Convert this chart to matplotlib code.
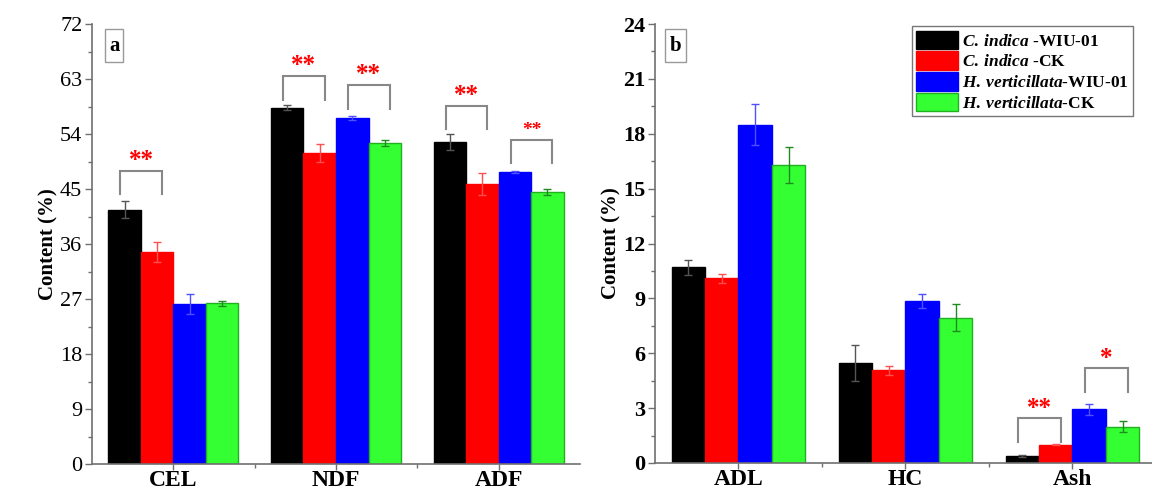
import matplotlib
matplotlib.use("Agg")
import matplotlib.pyplot as plt
import numpy as np
from matplotlib.patches import Rectangle, Patch

plt.rcParams['font.family'] = ['Liberation Serif', 'DejaVu Serif']
plt.rcParams['mathtext.fontset'] = 'custom'
plt.rcParams['mathtext.rm'] = 'Liberation Serif:bold'
plt.rcParams['mathtext.it'] = 'Liberation Serif:bold:italic'
plt.rcParams['mathtext.bf'] = 'Liberation Serif:bold'

# ---------------- data ----------------
series = ["C. indica -WIU-01", "C. indica -CK", "H. verticillata-WIU-01", "H. verticillata-CK"]
legend_labels = [r"$\mathit{C.\:indica}$ -WIU-01", r"$\mathit{C.\:indica}$ -CK",
                 r"$\mathit{H.\:verticillata}$-WIU-01", r"$\mathit{H.\:verticillata}$-CK"]

cats_a = ["CEL", "NDF", "ADF"]
vals_a = {
    "C. indica -WIU-01":      [41.6, 58.3, 52.7],
    "C. indica -CK":          [34.7, 50.9, 45.8],
    "H. verticillata-WIU-01": [26.2, 56.6, 47.8],
    "H. verticillata-CK":     [26.3, 52.5, 44.5],
}
errs_a = {
    "C. indica -WIU-01":      [1.4, 0.4, 1.3],
    "C. indica -CK":          [1.6, 1.4, 1.8],
    "H. verticillata-WIU-01": [1.7, 0.3, 0.2],
    "H. verticillata-CK":     [0.4, 0.5, 0.5],
}
yticks_a = [0, 9, 18, 27, 36, 45, 54, 63, 72]

cats_b = ["ADL", "HC", "Ash"]
vals_b = {
    "C. indica -WIU-01":      [10.7, 5.47, 0.38],
    "C. indica -CK":          [10.1, 5.08, 1.0],
    "H. verticillata-WIU-01": [18.5, 8.86, 2.95],
    "H. verticillata-CK":     [16.3, 7.95, 1.97],
}
errs_b = {
    "C. indica -WIU-01":      [0.4, 1.0, 0.05],
    "C. indica -CK":          [0.25, 0.25, 0.03],
    "H. verticillata-WIU-01": [1.1, 0.4, 0.3],
    "H. verticillata-CK":     [1.0, 0.75, 0.3],
}
yticks_b = [0, 3, 6, 9, 12, 15, 18, 21, 24]

# significance brackets: (category index, first bar, second bar, top, leg bottom, label, label y)
sig_a = [
    (0, 0, 1, 48.0, 44.2, "**", 47.8),
    (1, 0, 1, 63.5, 59.6, "**", 63.3),
    (1, 2, 3, 62.0, 58.1, "**", 61.8),
    (2, 0, 1, 58.6, 54.8, "**", 58.4),
    (2, 2, 3, 53.0, 49.3, "**", 53.2),
]
sig_b = [
    (2, 0, 1, 2.45, 1.15, "**", 2.35),
    (2, 2, 3, 5.2, 3.9, "*", 5.1),
]

# ---------------- styles ----------------
bar_colors = ["#000000", "#ff0000", "#0000ff", "#33ff33"]
edge_colors = ["#000000", "#ff0000", "#0000ff", "#20b020"]
err_colors = ["#555555", "#ff5050", "#5050ff", "#208a20"]
axis_gray = "#707070"
bracket_gray = "#888888"

W, H = 1152, 493
fig = plt.figure(figsize=(W / 100, H / 100), dpi=100)
ax_a = fig.add_axes([92 / W, (H - 464) / H, (580 - 92) / W, (464 - 24) / H])
ax_b = fig.add_axes([655 / W, (H - 463) / H, (1156 - 655) / W, (463 - 24) / H])

width = 0.2
offsets = [-0.3, -0.1, 0.1, 0.3]


def draw(ax, cats, vals, errs, yticks, sig, bold_ticks, star_sizes):
    x = np.arange(1, len(cats) + 1)
    for i, s in enumerate(series):
        ax.bar(x + offsets[i], vals[s], width, color=bar_colors[i],
               edgecolor=edge_colors[i], linewidth=1.0, zorder=2)
        ax.errorbar(x + offsets[i], vals[s], yerr=errs[s], fmt='none',
                    ecolor=err_colors[i], elinewidth=1.0, capsize=3,
                    capthick=1.0, zorder=3)
    ax.set_xlim(0.5, 3.5)
    ax.set_ylim(yticks[0], yticks[-1])
    ax.set_yticks(yticks)
    ax.set_yticks([(a + b) / 2 for a, b in zip(yticks[:-1], yticks[1:])], minor=True)
    ax.set_xticks(x)
    ax.set_xticks(x[:-1] + 0.5, minor=True)
    ax.set_xticklabels(cats, fontsize=17, fontweight='bold')
    for sp in ["top", "right"]:
        ax.spines[sp].set_visible(False)
    for sp in ["left", "bottom"]:
        ax.spines[sp].set_color(axis_gray)
        ax.spines[sp].set_linewidth(1.2)
    ax.tick_params(axis='both', which='both', direction='out', color=axis_gray, width=1.0)
    ax.tick_params(axis='both', which='major', length=5)
    ax.tick_params(axis='both', which='minor', length=3)
    ax.tick_params(axis='x', which='major', length=4, pad=0.5)
    ax.tick_params(axis='y', pad=2)
    for lab in ax.get_yticklabels():
        lab.set_fontsize(16)
        lab.set_fontweight('bold' if bold_ticks else 'normal')
    ax.set_ylabel("Content (%)", fontsize=15, fontweight='bold', labelpad=1)
    for k, (ci, b1, b2, top, bot, txt, ty) in enumerate(sig):
        x1 = x[ci] + offsets[b1] - 0.025
        x2 = x[ci] + offsets[b2] + 0.03
        ax.plot([x1, x1, x2, x2], [bot, top, top, bot], color=bracket_gray,
                lw=1.5, zorder=4, solid_joinstyle='miter')
        ax.text((x1 + x2) / 2, ty, txt, color='red', ha='center', va='bottom',
                fontsize=star_sizes[k], fontweight='bold', zorder=5)


draw(ax_a, cats_a, vals_a, errs_a, yticks_a, sig_a, False, [18, 18, 18, 18, 14])
draw(ax_b, cats_b, vals_b, errs_b, yticks_b, sig_b, True, [18, 18])

# panel labels
for ax, lab, (bx0, bx1) in [(ax_a, "a", (0.027, 0.064)), (ax_b, "b", (0.02, 0.062))]:
    ax.add_patch(Rectangle((bx0, 0.914), bx1 - bx0, 0.075, transform=ax.transAxes,
                           fill=False, edgecolor='#999999', lw=1.0, zorder=6))
    ax.text((bx0 + bx1) / 2, 0.951, lab, transform=ax.transAxes, ha='center',
            va='center', fontsize=15, fontweight='bold', zorder=7)

handles = [Patch(facecolor=bar_colors[i], edgecolor=edge_colors[i]) for i in range(4)]
leg = ax_b.legend(handles, legend_labels, loc='upper right',
                  bbox_to_anchor=(0.954, 0.995), fontsize=12.5, frameon=True,
                  fancybox=False, edgecolor='#777777', framealpha=1,
                  handlelength=2.4, handleheight=1.3, labelspacing=0.08,
                  handletextpad=0.25, borderpad=0.25, borderaxespad=0.0)
leg.get_frame().set_linewidth(1.0)
for t in leg.get_texts():
    t.set_fontweight('bold')

fig.savefig("out.png", dpi=100)
